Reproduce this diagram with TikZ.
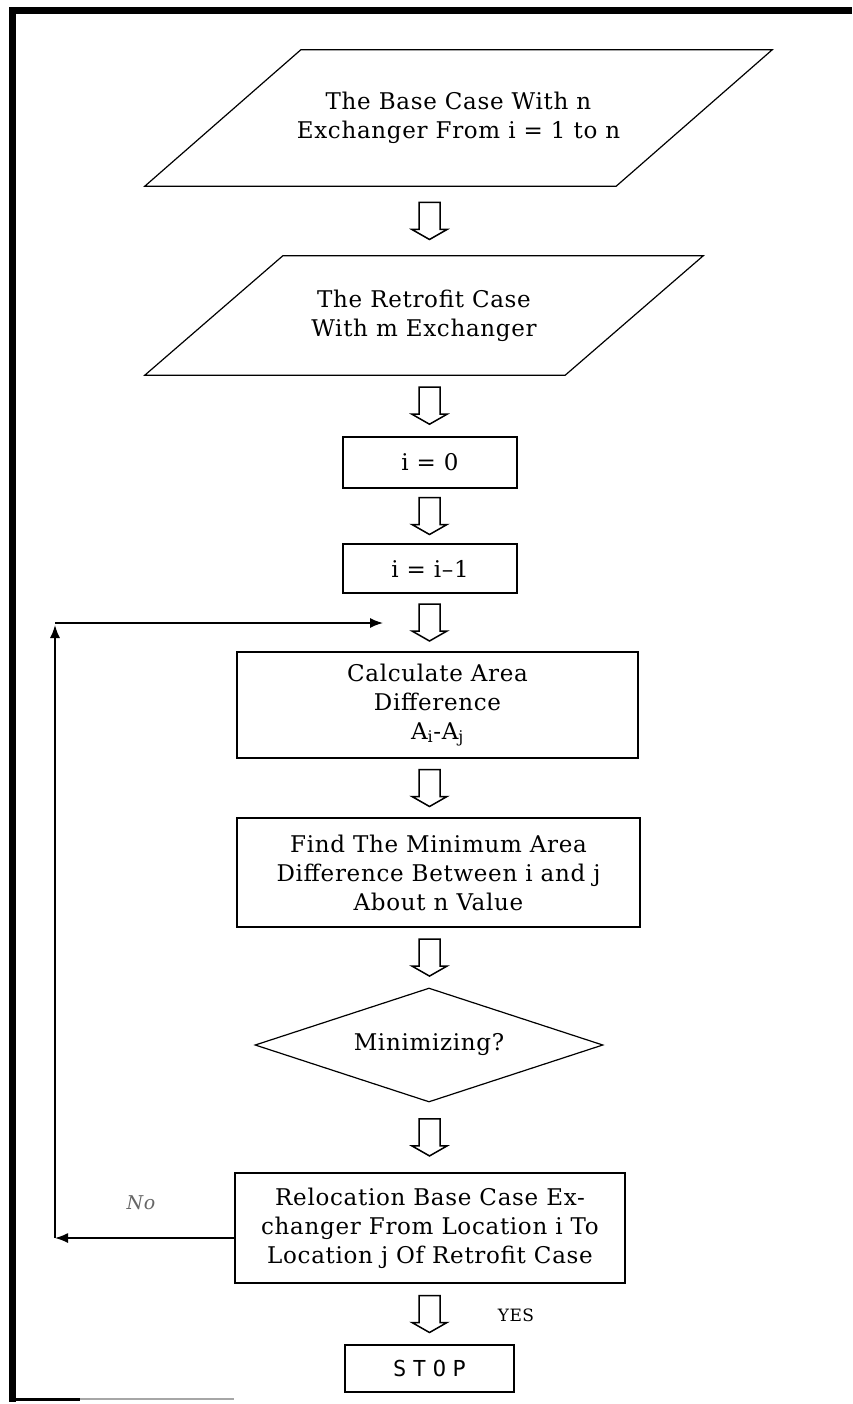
\documentclass[tikz,border=0pt]{standalone}
\usepackage{fontspec}
\setmainfont{DejaVu Serif}[LetterSpace=3]
\newfontfamily\stopfont[LetterSpace=30]{DejaVu Sans Mono}
\usetikzlibrary{shapes.geometric,arrows.meta,calc}
\newcommand{\boxfont}{\fontsize{23}{29}\selectfont}
\tikzset{
  flowbox/.style={draw,line width=1.5pt,align=center,inner sep=0pt,font=\boxfont},
  iobox/.style={align=center,inner sep=0pt,font=\boxfont},
  ioline/.style={line width=1.2pt,line join=miter},
  decbox/.style={flowbox,diamond,aspect=3,line width=1.2pt},
  loopline/.style={line width=1.5pt,-{Latex[length=13pt,width=10pt]}},
  downarr/.pic={\draw[line width=1.5pt,line join=miter]
    (-10.5,18.5) -- (10.5,18.5) -- (10.5,-8.5) -- (17.5,-8.5) -- (0,-18.5)
    -- (-17.5,-8.5) -- (-10.5,-8.5) -- cycle;}
}
\begin{document}
\begin{tikzpicture}[x=1pt,y=1pt]
        \def\cx{430}
        \useasboundingbox (0,0) rectangle (852,-1404);
        % frame of the figure
        \draw [line width=7pt,line join=miter] (852,-11) -- (12,-11) -- (12,-1402);
        \draw [line width=3pt] (12,-1399) -- (80,-1399);
        \draw [line width=2pt,black!35] (80,-1399) -- (234,-1399);
        % steps
        \node [iobox,minimum width=627pt,minimum height=136pt] (base) at (458.5,-118)
            {The Base Case With n\\Exchanger From i = 1 to n};
        \draw [ioline] (base.south west) -- ($(base.south east)+(-156,0)$) -- (base.north east)
            -- ($(base.north west)+(156,0)$) -- cycle;
        \node [iobox,minimum width=558pt,minimum height=119pt] (retro) at (424,-315.5)
            {The Retrofit Case\\With m Exchanger};
        \draw [ioline] (retro.south west) -- ($(retro.south east)+(-138,0)$) -- (retro.north east)
            -- ($(retro.north west)+(138,0)$) -- cycle;
        \node [flowbox,minimum width=174pt,minimum height=51pt] (init) at (\cx,-462.5) {i = 0};
        \node [flowbox,minimum width=174pt,minimum height=49pt] (incr) at (\cx,-568.5) {i = i–1};
        \node [flowbox,minimum width=401pt,minimum height=106pt] (calc) at (437.5,-705)
            {Calculate Area\\Difference\\A\textsubscript{i}-A\textsubscript{j}};
        \node [flowbox,minimum width=403pt,minimum height=109pt] (find) at (438.5,-872.5)
            {Find The Minimum Area\\Difference Between i and j\\About n Value};
        \node [decbox,minimum width=348pt,minimum height=114pt] (mini) at (429,-1045) {Minimizing?};
        \node [flowbox,minimum width=390pt,minimum height=110pt] (reloc) at (\cx,-1228)
            {Relocation Base Case Ex-\\changer From Location i To\\Location j Of Retrofit Case};
        \node [flowbox,minimum width=169pt,minimum height=47pt,font=\stopfont\fontsize{22}{26}\selectfont]
            (stop) at (429.5,-1368.5) {STOP};
        % block arrows between the steps
        \foreach \a/\b in {base/retro,retro/init,init/incr,incr/calc,calc/find,find/mini,mini/reloc,reloc/stop} {
            \coordinate (mid) at ($(\a.south)!0.5!(\b.north)$);
            \pic at (stop |- mid) {downarr};
        }
        % loop back
        \coordinate (lowleft) at (55,-1238);
        \coordinate (upleft) at (55,-623);
        \coordinate (entry) at (383,-623);
        \draw [loopline] ([yshift=-10pt]reloc.west) -- (lowleft);
        \draw [loopline] (lowleft) -- ([yshift=-2pt]upleft);
        \draw [loopline] (upleft) -- (entry);
        \node [font=\itshape\fontsize{19}{22}\selectfont,text=black!60] (no) at (141,-1203) {No};
        \node [font=\fontsize{17}{20}\selectfont] (yes) at (516,-1315) {YES};
\end{tikzpicture}
\end{document}
